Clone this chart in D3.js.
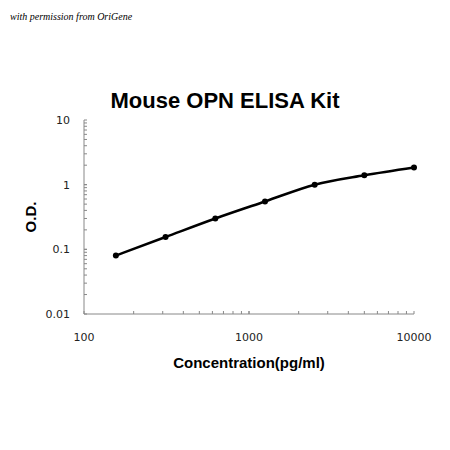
<!DOCTYPE html>
<html><head><meta charset="utf-8">
<script src="https://cdn.jsdelivr.net/npm/d3@7"></script>
<style>body{margin:0;background:#fff}</style></head>
<body><svg id="c" width="450" height="450"></svg>
<script>
const concentrations=[156,312,625,1250,2500,5000,10000];
const od=[0.08,0.155,0.3,0.55,1.0,1.4,1.85];
const xTicks=[100,1000,10000];
const yTicks=[0.01,0.1,1,10];
const yTickLabels=["0.01","0.1","1","10"];
const xTickLabels=["100","1000","10000"];

const svg=d3.select("#c");
const x=d3.scaleLog().domain([100,10000]).range([84,414]);
const y=d3.scaleLog().domain([0.01,10]).range([314,120]);

svg.append("text").attr("x",10).attr("y",20).attr("font-family","Liberation Serif").attr("font-style","italic").attr("font-size",10).text("with permission from OriGene");
svg.append("text").attr("x",225).attr("y",108).attr("text-anchor","middle").attr("font-family","Liberation Sans, Arial").attr("font-weight","bold").attr("font-size",22).text("Mouse OPN ELISA Kit");

const g=svg.append("g").attr("stroke","#888").attr("stroke-width",1);
g.append("line").attr("x1",84).attr("x2",84).attr("y1",120).attr("y2",314);
g.append("line").attr("x1",84).attr("x2",414).attr("y1",314).attr("y2",314);
// minor ticks
const yMinor=[];for(let e=-2;e<1;e++)for(let m=1;m<=10;m++)yMinor.push(m*Math.pow(10,e));
yMinor.forEach(v=>g.append("line").attr("x1",84).attr("x2",87).attr("y1",y(v)).attr("y2",y(v)));
const xMinor=[];for(let e=2;e<4;e++)for(let m=1;m<=10;m++)xMinor.push(m*Math.pow(10,e));
xMinor.forEach(v=>g.append("line").attr("x1",x(v)).attr("x2",x(v)).attr("y1",314).attr("y2",311));

yTicks.forEach((v,i)=>svg.append("text").attr("x",70).attr("y",y(v)+4).attr("text-anchor","end").attr("font-family","DejaVu Sans").attr("font-size",11).attr("fill","#222").text(yTickLabels[i]));
xTicks.forEach((v,i)=>svg.append("text").attr("x",x(v)).attr("y",341).attr("text-anchor","middle").attr("font-family","DejaVu Sans").attr("font-size",11).attr("fill","#222").text(xTickLabels[i]));

svg.append("text").attr("transform","translate(36,217) rotate(-90)").attr("text-anchor","middle").attr("font-family","Liberation Sans, Arial").attr("font-weight","bold").attr("font-size",15).text("O.D.");
svg.append("text").attr("x",249).attr("y",368).attr("text-anchor","middle").attr("font-family","Liberation Sans, Arial").attr("font-weight","bold").attr("font-size",15).text("Concentration(pg/ml)");

const data=concentrations.map((c,i)=>[c,od[i]]);
svg.append("path").datum(data).attr("fill","none").attr("stroke","#000").attr("stroke-width",2.5)
 .attr("d",d3.line().x(d=>x(d[0])).y(d=>y(d[1])).curve(d3.curveMonotoneX));
svg.selectAll("circle").data(data).enter().append("circle").attr("cx",d=>x(d[0])).attr("cy",d=>y(d[1])).attr("r",3).attr("fill","#000");
</script></body></html>
